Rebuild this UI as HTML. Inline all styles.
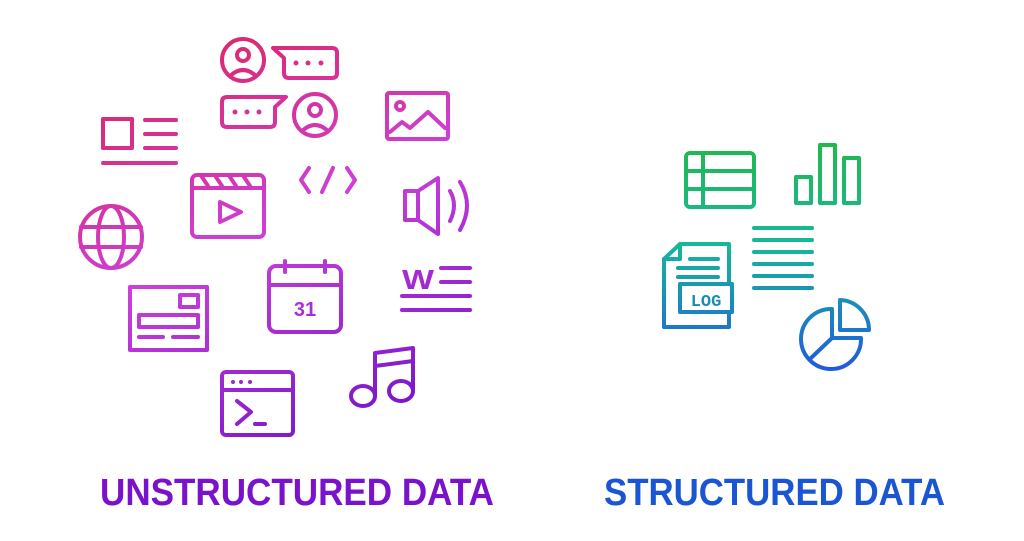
<!DOCTYPE html>
<html><head><meta charset="utf-8"><style>html,body{margin:0;padding:0;background:#fff;}svg{display:block}</style></head>
<body>
<svg width="1024" height="541" viewBox="0 0 1024 541" xmlns="http://www.w3.org/2000/svg">
<defs>
<linearGradient id="lg" gradientUnits="userSpaceOnUse" x1="150" y1="40" x2="330" y2="440">
<stop offset="0" stop-color="#e0245a"/><stop offset="0.5" stop-color="#cc40d8"/><stop offset="1" stop-color="#7a16cc"/>
</linearGradient>
<linearGradient id="rg" gradientUnits="userSpaceOnUse" x1="0" y1="140" x2="0" y2="372">
<stop offset="0" stop-color="#22b84a"/><stop offset="0.45" stop-color="#16b89a"/><stop offset="1" stop-color="#2058e0"/>
</linearGradient>
</defs>
<g fill="none" stroke="url(#lg)" stroke-width="4" stroke-linecap="round" stroke-linejoin="round">
<circle cx="243" cy="60" r="21"/><circle cx="243" cy="55" r="6"/><path d="M230 76 Q243 64 256 76"/>
<path d="M273 48 H332 Q337 48 337 53 V73 Q337 78 332 78 H289 Q284 78 284 73 V58 Z"/>
<path d="M286 97 H227 Q222 97 222 102 V122 Q222 127 227 127 H270 Q275 127 275 122 V107 Z"/>
<circle cx="315" cy="115" r="21"/><circle cx="315" cy="110" r="6"/><path d="M302 131 Q315 119 328 131"/>
<rect x="387" y="93" width="61" height="46" rx="2"/><circle cx="400" cy="106" r="4"/><path d="M390 132 L402 122 L410 128 L428 112 L445 128"/>
<rect x="103" y="119" width="29" height="29"/><path d="M145 120 H176 M145 134 H176 M145 148 H176 M103 163 H176"/>
<rect x="192" y="175" width="72" height="62" rx="5"/><path d="M192 188 H264 M202 177 L208 186 M216 177 L222 186 M230 177 L236 186 M244 177 L250 186"/><path d="M220 202 L241 212 L220 222 Z"/>
<path d="M309 168 L301 180 L309 192 M347 168 L355 180 L347 192 M333 168 L322 192"/>
<rect x="405" y="191" width="13" height="29"/><path d="M418 191 L438 178 V234 L418 220"/><path d="M450 191 Q458 205 450 221 M460 182 Q474 205 460 230"/>
<circle cx="111" cy="237" r="31"/><ellipse cx="111" cy="237" rx="13" ry="31"/><path d="M81 227 H141 M81 247 H141"/>
<rect x="269" y="266" width="72" height="66" rx="7"/><path d="M269 285 H341 M285 261 V272 M325 261 V272"/>
<path d="M402 296 H470 M402 310 H470 M441 268 H470 M441 282 H470"/>
<rect x="130" y="287" width="77" height="63"/><rect x="180" y="295" width="18" height="12"/><rect x="139" y="315" width="59" height="12"/><path d="M139 337 H163 M173 337 H198"/>
<rect x="222" y="372" width="71" height="63" rx="4"/><path d="M222 390 H293 M237 401 L251 412 L237 424 M255 424 H265"/>
<ellipse cx="363" cy="396" rx="12" ry="10"/><ellipse cx="401" cy="391" rx="12" ry="10"/><path d="M375 396 V353 L413 348 V391 M375 366 L413 361"/>
</g>
<g fill="url(#lg)">
<circle cx="296" cy="63" r="2.5"/><circle cx="308" cy="63" r="2.5"/><circle cx="321" cy="63" r="2.5"/>
<circle cx="235" cy="112" r="2.5"/><circle cx="247" cy="112" r="2.5"/><circle cx="259" cy="112" r="2.5"/>
<circle cx="233" cy="382" r="2"/><circle cx="241" cy="382" r="2"/><circle cx="250" cy="382" r="2"/>
<text x="305" y="316" font-family="Liberation Sans, sans-serif" font-weight="bold" font-size="20" text-anchor="middle">31</text>
<text x="402" y="289" font-family="Liberation Sans, sans-serif" font-weight="bold" font-size="28" textLength="32" lengthAdjust="spacingAndGlyphs">W</text>
</g>
<g fill="none" stroke="url(#rg)" stroke-width="4" stroke-linecap="round" stroke-linejoin="round">
<rect x="686" y="153" width="68" height="54" rx="4"/><path d="M703 153 V207 M686 171 H754 M686 189 H754"/>
<rect x="796" y="177" width="15" height="26"/><rect x="820" y="145" width="15" height="58"/><rect x="844" y="158" width="15" height="45"/>
<path d="M754 228 H812 M754 240 H812 M754 252 H812 M754 264 H812 M754 276 H812 M754 288 H812"/>
<path d="M729 284 V244 H680 L664 259 V327 H729 V312" stroke-linecap="butt"/>
<path d="M664 259 H680 V244"/>
<rect x="680" y="284" width="52" height="28"/><path d="M690 259 H718 M678 268 H718 M678 277 H718"/>
<path d="M832 309 A30 30 0 1 0 861 338 H832 Z M832 338 L811 358"/><path d="M840 300 A30 30 0 0 1 869 330 H840 Z"/>
</g>
<text x="706" y="306" fill="url(#rg)" font-family="Liberation Mono, monospace" font-weight="bold" font-size="17" text-anchor="middle">LOG</text>
<text x="100" y="505" fill="#7a12cc" font-family="Liberation Sans, sans-serif" font-weight="bold" font-size="38" textLength="394" lengthAdjust="spacingAndGlyphs">UNSTRUCTURED DATA</text>
<text x="604" y="505" fill="#1a56d4" font-family="Liberation Sans, sans-serif" font-weight="bold" font-size="38" textLength="341" lengthAdjust="spacingAndGlyphs">STRUCTURED DATA</text>
</svg>
</body></html>
